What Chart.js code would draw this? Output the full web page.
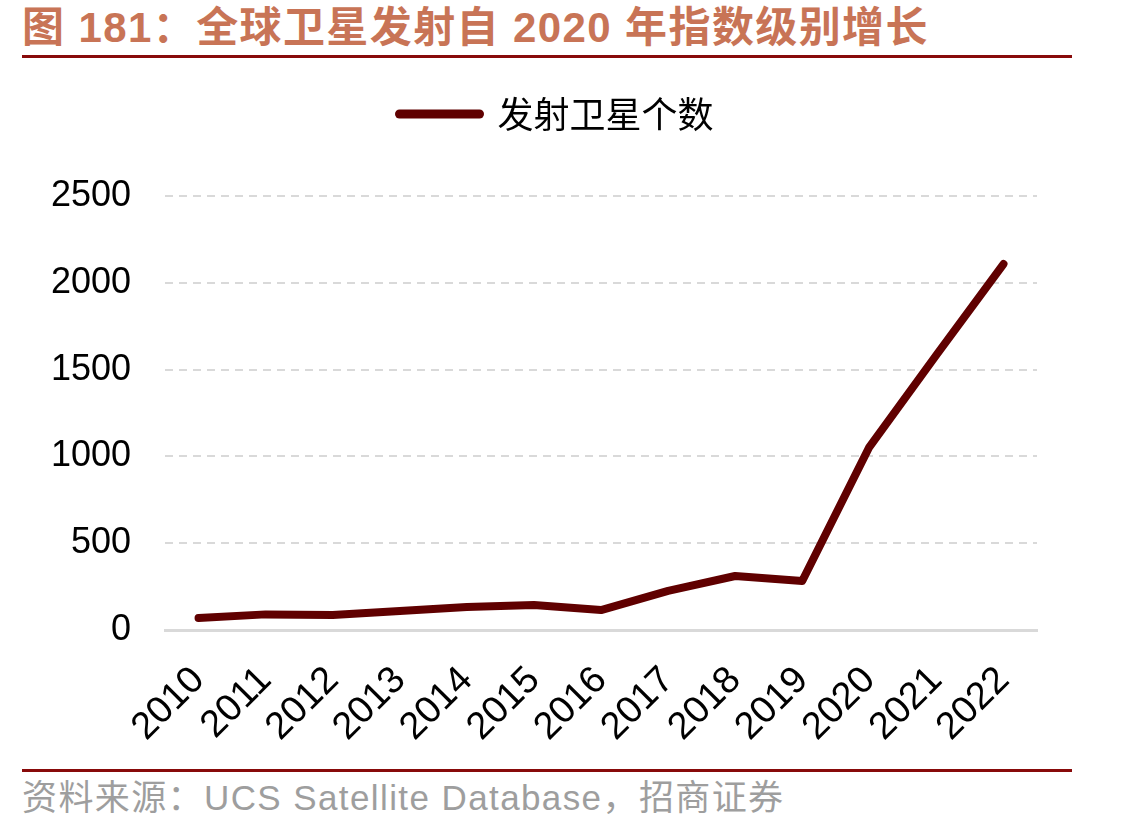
<!DOCTYPE html>
<html>
<head>
<meta charset="utf-8">
<script src="https://cdn.jsdelivr.net/npm/chart.js@4"></script>
<style>
    body { margin: 0; background: #fff; width: 1121px; height: 831px; position: relative; overflow: hidden; }
    #title { position: absolute; left: 22px; top: -7px; line-height: 42px; font: bold 42px "Liberation Sans", "Noto Sans CJK SC", sans-serif; letter-spacing: 1.4px; color: #C87456; white-space: nowrap; }
    .rule { position: absolute; left: 22px; width: 1050px; height: 3px; background: #880A0A; }
    #source { position: absolute; left: 22px; top: 769px; line-height: 36px; font: 35px "Liberation Sans", "Noto Sans CJK SC", sans-serif; letter-spacing: 1.4px; color: #9E9E9E; white-space: nowrap; }
    #wrap { position: absolute; left: 0; top: 70px; width: 1121px; height: 690px; }
</style>
</head>
<body>
<div id="title">图 181：全球卫星发射自 2020 年指数级别增长</div>
<div class="rule" style="top:55px"></div>
<div id="wrap"><canvas id="satellite_launches"></canvas></div>
<div class="rule" style="top:769px"></div>
<div id="source">资料来源：UCS Satellite Database，招商证券</div>

<script>
// eixo x
var years = ['2010', '2011', '2012', '2013', '2014', '2015', '2016', '2017', '2018', '2019', '2020', '2021', '2022'];
// satellites launched per year
var launches = [69, 90, 86, 109, 132, 144, 115, 225, 311, 282, 1054, 1584, 2108];
var seriesLabel = '发射卫星个数';
var yTicks = [0, 500, 1000, 1500, 2000, 2500];

var chart_sat = document.getElementById('satellite_launches');

// altura fixa da legenda e deslocamento para a direita
var legendTweak = {
    id: 'legendTweak',
    beforeInit: function(chart) {
        var origFit = chart.legend.fit;
        chart.legend.fit = function() {
            origFit.bind(chart.legend)();
            this.height = 126;
        };
    },
    afterLayout: function(chart) {
        chart.legend.left += 38;
        chart.legend.right += 38;
    }
};

let chartSat = new Chart(chart_sat, {
    type: 'line',
    data: {
        labels: years,
        datasets: [{
            label: seriesLabel,
            data: launches,
            borderColor: '#600000',
            backgroundColor: '#600000',
            borderWidth: 8,
            borderCapStyle: 'round',
            borderJoinStyle: 'round',
            pointRadius: 0,
            tension: 0,
            fill: false
        }]
    },
    options: {
        responsive: true,
        maintainAspectRatio: false,
        animation: false,
        layout: {
            padding: { left: 0, right: 84, top: 0, bottom: 0 }
        },
        plugins: {
            legend: {
                position: 'top',
                labels: {
                    padding: 26,
                    color: '#000',
                    font: { family: '"Noto Sans CJK SC", sans-serif', size: 36 },
                    generateLabels: function(chart) {
                        var ds = chart.data.datasets[0];
                        return [{
                            text: ds.label,
                            fillStyle: ds.borderColor,
                            strokeStyle: ds.borderColor,
                            lineWidth: 9,
                            lineCap: 'round',
                            pointStyle: 'line',
                            datasetIndex: 0,
                            fontColor: '#000'
                        }];
                    },
                    usePointStyle: true,
                    pointStyleWidth: 80
                }
            },
            tooltip: { enabled: false }
        },
        scales: {
            x: {
                offset: true,
                grid: { display: true, drawOnChartArea: false, drawTicks: false },
                border: { display: true, color: '#D9D9D9', width: 3 },
                ticks: {
                    autoSkip: false,
                    maxRotation: 45,
                    minRotation: 45,
                    padding: 28,
                    color: '#000',
                    font: { family: '"Liberation Sans", Arial, sans-serif', size: 38 }
                },
                afterFit: function(scale) { scale.height = 130; }
            },
            y: {
                min: 0,
                max: 2500,
                afterBuildTicks: function(scale) {
                    scale.ticks = yTicks.map(function(v) { return { value: v }; });
                },
                grid: {
                    drawTicks: false,
                    lineWidth: 2,
                    color: function(ctx) {
                        return ctx.tick && ctx.tick.value === 0 ? 'rgba(0,0,0,0)' : '#D9D9D9';
                    }
                },
                border: { display: false, dash: [8, 6] },
                ticks: {
                    padding: 34,
                    color: '#000',
                    font: { family: '"Liberation Sans", Arial, sans-serif', size: 36 },
                    callback: function(value) {
                        return String(value);
                    }
                },
                afterFit: function(scale) { scale.width = 165; }
            }
        }
    },
    plugins: [legendTweak]
});
</script>
</body>
</html>
